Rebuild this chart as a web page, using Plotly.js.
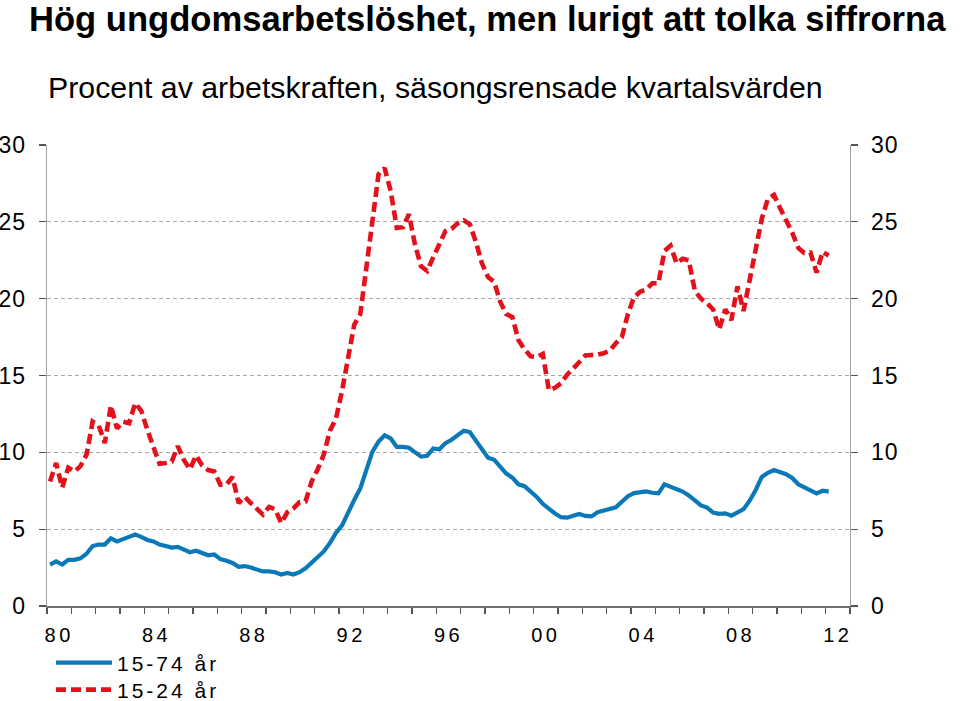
<!DOCTYPE html>
<html>
<head>
<meta charset="utf-8">
<script src="https://cdn.plot.ly/plotly-3.0.1.min.js"></script>
<style>
  html, body { margin: 0; padding: 0; background: #fff; }
  #chart { width: 960px; height: 701px; }
  .xtick text { letter-spacing: 3.5px; }
  .ytick text, .y2tick text { letter-spacing: 1px; }
  .legendtext, .infolayer g[class*="legend"] text { letter-spacing: 3px; }
  .infolayer g[class*="legend"], .infolayer g[class*="legend"] * { clip-path: none !important; }
</style>
</head>
<body>
<div id="chart"></div>
<script>
// Quarterly series, 1980 Q1 – 2012 Q1 (percent of labour force, seasonally adjusted)
const startYear = 1980;
const seriesNames = ['15-74 år', '15-24 år'];

const age15_74 = [
  2.7, 2.9, 2.7, 3.0, 3.0, 3.1, 3.4, 3.9, 4.0, 4.0,
  4.4, 4.2, 4.35, 4.5, 4.65, 4.5, 4.3, 4.2, 4.0, 3.9,
  3.8, 3.85, 3.65, 3.5, 3.6, 3.45, 3.3, 3.35, 3.05, 2.95,
  2.8, 2.55, 2.6, 2.5, 2.4, 2.25, 2.25, 2.2, 2.05, 2.15,
  2.05, 2.2, 2.45, 2.8, 3.2,
  3.55, 4.1, 4.75, 5.25, 6.15, 6.9, 7.65, 8.75, 10.05, 10.7,
  11.1, 10.9, 10.35, 10.35, 10.3, 10.0, 9.72, 9.78, 10.25, 10.2,
  10.6, 10.82, 11.15, 11.4, 11.32, 10.78, 10.2, 9.65, 9.52, 9.08,
  8.62, 8.35, 7.92, 7.8, 7.48, 7.1, 6.65, 6.32, 6.02, 5.78,
  5.75, 5.88, 5.99, 5.86, 5.83, 6.1, 6.2, 6.32, 6.42,
  6.78, 7.15, 7.35, 7.43, 7.46, 7.37, 7.33, 7.92, 7.75, 7.63,
  7.45, 7.2, 6.85, 6.55, 6.4, 6.08, 6.0, 6.03, 5.88, 6.1,
  6.3, 6.85, 7.55, 8.4, 8.67, 8.85, 8.74, 8.58, 8.33, 7.92,
  7.72, 7.55, 7.33, 7.5, 7.44
];

const age15_24 = [
  8.1, 9.3, 7.7, 9.0, 8.75, 9.1, 9.85, 12.0, 11.75, 10.6,
  13.05, 11.55, 12.0, 11.9, 13.2, 12.7, 11.45, 10.35, 9.25, 9.3,
  9.4, 10.4, 9.5, 8.9, 9.8, 9.15, 8.85, 8.75, 7.9, 7.9,
  8.4, 6.7, 7.1, 6.7, 6.35, 5.95, 6.45, 6.3, 5.4, 6.1,
  6.35, 6.75, 6.8, 8.1, 8.9, 9.85, 11.4, 12.2, 14.0, 16.1,
  18.3, 19.0, 22.2, 25.2, 28.1, 28.5, 27.0, 24.6, 24.65, 25.5,
  23.5, 22.1, 21.8, 22.7, 23.6, 24.4, 24.55, 24.9, 25.1, 24.85,
  23.7, 22.3, 21.4, 21.1, 19.8, 19.0, 18.8, 17.3, 16.7, 16.25,
  16.2, 16.4, 14.05, 14.2, 14.5, 15.05, 15.45, 15.85, 16.3, 16.33,
  16.35, 16.45, 16.6, 17.1, 17.5, 19.0, 20.1, 20.45, 20.6, 21.0,
  21.0, 23.1, 23.45, 22.3, 22.6, 22.5, 20.5, 20.0, 19.7, 19.3,
  18.0, 19.3, 18.6, 20.8, 19.2, 21.2, 23.3, 25.2, 26.5, 26.75,
  25.9, 25.1, 24.3, 23.3, 22.97, 23.0, 21.7, 23.05, 22.8
];

const tickYears = [1980, 1984, 1988, 1992, 1996, 2000, 2004, 2008, 2012];
const tickLabels = ['80', '84', '88', '92', '96', '00', '04', '08', '12'];
const yTicks = [0, 5, 10, 15, 20, 25, 30];

// quarter mid-points as decimal years
const quarterX = age15_74.map((_, i) => startYear + Math.floor(i / 4) + ((i % 4) + 0.5) / 4);

const FONT = '"Liberation Sans", Arial, Helvetica, sans-serif';

const traces = [
  {
    x: quarterX, y: age15_74, name: seriesNames[0], type: 'scatter', mode: 'lines',
    line: { color: '#0b79b8', width: 4.2 }, yaxis: 'y', hoverinfo: 'x+y',
    legend: 'legend'
  },
  {
    x: quarterX, y: age15_24, name: seriesNames[1], type: 'scatter', mode: 'lines',
    line: { color: '#e3111b', width: 4.6, dash: '10px,5px' }, yaxis: 'y2', hoverinfo: 'x+y',
    legend: 'legend2'
  }
];

const plotL = 47, plotR = 850, plotT = 145, plotB = 606;
const W = 960, H = 701;
const px2paperX = p => (p - plotL) / (plotR - plotL);
const px2paperY = p => (plotB - p) / (plotB - plotT);

const yCommon = {
  range: [0, 30], tickmode: 'array', tickvals: yTicks,
  ticks: 'outside', ticklen: 7, tickwidth: 1.3, tickcolor: '#555',
  showline: true, linecolor: '#a3a3a3', linewidth: 1.3,
  zeroline: false, fixedrange: true,
  tickfont: { family: FONT, size: 23, color: '#000' },
  ticklabelstandoff: 8
};

const legendCommon = {
  xanchor: 'left', yanchor: 'middle',
  orientation: 'v', bgcolor: 'rgba(0,0,0,0)',
  font: { family: FONT, size: 21, color: '#000' },
  tracegroupgap: 0, itemwidth: 56
};

const layout = {
  width: W, height: H,
  margin: { l: plotL, r: W - plotR, t: plotT, b: H - plotB, pad: 0, autoexpand: false },
  paper_bgcolor: '#fff', plot_bgcolor: '#fff',
  font: { family: FONT, color: '#000' },
  showlegend: true,
  legend: Object.assign({}, legendCommon, { x: px2paperX(51), y: px2paperY(663) }),
  legend2: Object.assign({}, legendCommon, { x: px2paperX(51), y: px2paperY(690) }),
  xaxis: {
    range: [1980, 2013],
    tickmode: 'array',
    tickvals: tickYears.map(y => y + 0.5),
    ticktext: tickLabels,
    ticks: '',
    showline: true, linecolor: '#707070', linewidth: 1.5,
    showgrid: false, zeroline: false, fixedrange: true,
    tickfont: { family: FONT, size: 20, color: '#000' },
    ticklabelstandoff: 10,
    minor: { tickmode: 'linear', tick0: 1980, dtick: 1, ticks: 'outside', ticklen: 6, tickwidth: 1.3, tickcolor: '#555', showgrid: false }
  },
  yaxis: Object.assign({}, yCommon, {
    side: 'left',
    showgrid: true, gridcolor: '#a8a8a8', gridwidth: 1, griddash: '4px,3px'
  }),
  yaxis2: Object.assign({}, yCommon, {
    side: 'right', overlaying: 'y', showgrid: false
  }),
  annotations: [
    {
      text: '<b>Hög ungdomsarbetslöshet, men lurigt att tolka siffrorna</b>',
      xref: 'paper', yref: 'paper', x: px2paperX(27), y: px2paperY(19),
      xanchor: 'left', yanchor: 'middle', showarrow: false,
      font: { family: FONT, size: 34.6, color: '#000' }
    },
    {
      text: 'Procent av arbetskraften, säsongsrensade kvartalsvärden',
      xref: 'paper', yref: 'paper', x: px2paperX(46), y: px2paperY(88),
      xanchor: 'left', yanchor: 'middle', showarrow: false,
      font: { family: FONT, size: 30.3, color: '#000' }
    }
  ]
};

Plotly.newPlot('chart', traces, layout, { displayModeBar: false, staticPlot: true });
</script>
</body>
</html>
